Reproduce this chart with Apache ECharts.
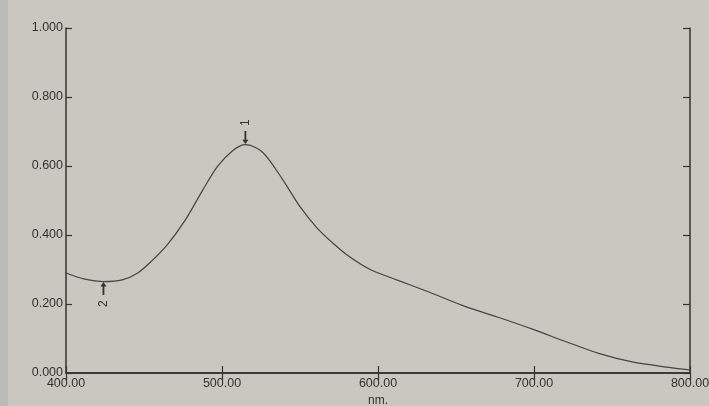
<!DOCTYPE html>
<html>
<head>
<meta charset="utf-8">
<script src="https://cdn.jsdelivr.net/npm/echarts@6/dist/echarts.min.js"></script>
<style>
  html, body { margin: 0; padding: 0; background: #cac6c0; }
  #chart { width: 709px; height: 406px; }
</style>
</head>
<body>
<div id="chart"></div>
<script>
// spectrum (nm / absorbance)
var wavelengths = [400, 412, 424, 436, 446, 455, 465, 476, 487, 497, 507, 515, 526, 539, 550, 561, 571, 582, 595, 612, 633, 654, 678, 699, 721, 742, 763, 785, 800];
var absorbance = [0.290, 0.272, 0.265, 0.270, 0.290, 0.325, 0.372, 0.440, 0.525, 0.598, 0.645, 0.662, 0.640, 0.560, 0.482, 0.420, 0.377, 0.336, 0.300, 0.270, 0.234, 0.196, 0.160, 0.127, 0.090, 0.056, 0.032, 0.017, 0.009];

// peak / valley marks
var markNames = ['1', '2'];
var markWl = [515, 424];
var markAbs = [0.662, 0.265];

var ink = '#333333';
var font = 'Liberation Sans';

var chart = echarts.init(document.getElementById('chart'));

var points = wavelengths.map(function (w, i) { return [w, absorbance[i]]; });

var arrow = 'path://M1.4,0 L2.6,0 L2.6,8 L4,8 L2,12 L0,8 L1.4,8 Z';

var marks = markNames.map(function (n, i) {
    var up = i === 1;
    return {
        name: n,
        coord: [markWl[i], markAbs[i]],
        symbol: arrow,
        symbolSize: [6, 13],
        symbolRotate: up ? 180 : 0,
        symbolOffset: [0, up ? 7 : -7],
        label: {
            show: true,
            formatter: n,
            position: 'inside',
            offset: [up ? -15 : 15, 0],
            rotate: 90,
            color: ink,
            fontSize: 12,
            fontFamily: font
        }
    };
});

var option = {
    backgroundColor: '#cac6c0',
    animation: false,
    graphic: [{
        type: 'rect',
        shape: { x: 0, y: 0, width: 8, height: 406 },
        style: { fill: '#bdbbb8' },
        z: -1
    }],
    grid: { left: 66, right: 19, top: 28, bottom: 33, outerBoundsMode: 'none', containLabel: false },
    xAxis: [{
        type: 'value',
        min: 400, max: 800, interval: 100,
        name: 'nm.',
        nameLocation: 'middle',
        nameGap: 19,
        nameTextStyle: { color: ink, fontSize: 12, fontFamily: font },
        axisLine: { lineStyle: { color: ink, width: 1.5 } },
        axisTick: { inside: true, length: 7, lineStyle: { color: ink, width: 1.2 } },
        axisLabel: {
            color: ink, fontSize: 12.5, fontFamily: font, margin: 4,
            formatter: function (v) { return v.toFixed(2); }
        },
        splitLine: { show: false }
    }, {
        type: 'value',
        position: 'top',
        min: 400, max: 800, interval: 100,
        axisLine: { show: true, lineStyle: { color: ink, width: 1.5 } },
        axisTick: { inside: true, length: 7, lineStyle: { color: ink, width: 1.2 } },
        axisLabel: { show: false },
        splitLine: { show: false }
    }],
    yAxis: [{
        type: 'value',
        min: 0, max: 1, interval: 0.2,
        axisLine: { show: true, lineStyle: { color: ink, width: 1.5 } },
        axisTick: { show: true, inside: true, length: 6, lineStyle: { color: ink, width: 1.2 } },
        axisLabel: {
            color: ink, fontSize: 12.5, fontFamily: font, margin: 3,
            formatter: function (v) { return v.toFixed(3); }
        },
        splitLine: { show: false }
    }, {
        type: 'value',
        position: 'right',
        min: 0, max: 1, interval: 0.2,
        axisLine: { show: true, lineStyle: { color: ink, width: 1.5 } },
        axisTick: { show: true, inside: true, length: 7, lineStyle: { color: ink, width: 1.2 } },
        axisLabel: { show: false },
        splitLine: { show: false }
    }],
    series: [{
        type: 'line',
        data: points,
        smooth: 0.3,
        showSymbol: false,
        lineStyle: { color: '#454545', width: 1.2 },
        markPoint: {
            itemStyle: { color: ink },
            data: marks
        }
    }]
};

chart.setOption(option);
</script>
</body>
</html>
